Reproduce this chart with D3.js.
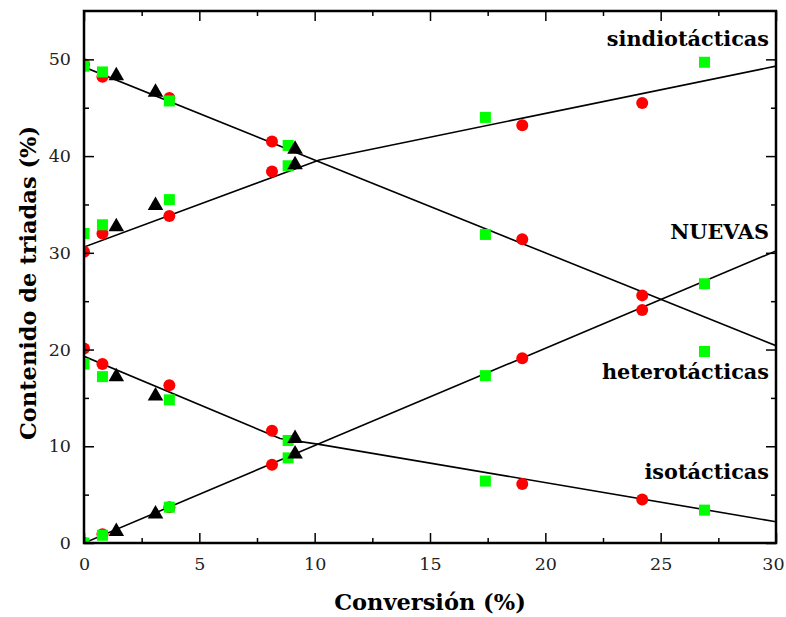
<!DOCTYPE html>
<html><head><meta charset="utf-8">
<script src="https://cdn.jsdelivr.net/npm/d3@7"></script>
<style>body{margin:0;background:#fff}svg{display:block}</style>
</head><body><svg id="c" width="786" height="617"></svg>
<script>
// Conversion (%) for each sample set
const xCircles   = [0, 0.8, 3.7, 8.15, 19.0, 24.2];
const xSquares   = [0, 0.8, 3.7, 8.85, 17.4, 26.9];
const xTriangles = [1.4, 3.1, 9.15];

// Triad content (%) — red circles
const circHetero = [49.5, 48.2, 46.0, 41.5, 31.4, 25.6];
const circSindio = [30.1, 32.0, 33.8, 38.4, 43.2, 45.5];
const circIso    = [20.1, 18.5, 16.3, 11.6, 6.1, 4.5];
const circNuevas = [0, 0.9, 3.7, 8.1, 19.1, 24.1];
// green squares
const sqHetero = [49.3, 48.7, 45.7, 41.1, 31.9, 19.8];
const sqSindio = [32.0, 32.9, 35.5, 39.0, 44.0, 49.7];
const sqIso    = [18.5, 17.2, 14.8, 10.6, 6.4, 3.4];
const sqNuevas = [0, 0.8, 3.7, 8.8, 17.3, 26.8];
// black triangles
const triHetero = [48.4, 46.7, 40.8];
const triSindio = [32.8, 35.0, 39.2];
const triIso    = [17.3, 15.3, 10.9];
const triNuevas = [1.3, 3.1, 9.3];

// Trend lines (x, y)
const lineA = [[0, 49.2], [30, 20.4]];
const lineB = [[0, 30.6], [10.2, 39.6], [30, 49.3]];
const lineC = [[0, 19.3], [8.5, 10.8], [10.2, 10.2], [30, 2.2]];
const lineD = [[0, 0], [30, 30.2]];

const xTicks = [0, 5, 10, 15, 20, 25, 30];
const yTicks = [0, 10, 20, 30, 40, 50];
const labels = [
  {t: "sindiotácticas", y: 46},
  {t: "NUEVAS", y: 239},
  {t: "heterotácticas", y: 379},
  {t: "isotácticas", y: 479}
];

const FONT = "DejaVu Serif";
const svg = d3.select("#c");
const L = 84, R = 776, T = 11, B = 543;
const x = d3.scaleLinear().domain([0, 30]).range([L, R]);
const y = d3.scaleLinear().domain([0, 55]).range([B, T]);

svg.append("defs").append("clipPath").attr("id", "clip")
  .append("rect").attr("x", L).attr("y", T).attr("width", R - L).attr("height", B - T);

const g = svg.append("g").attr("clip-path", "url(#clip)");

const line = d3.line().x(d => x(d[0])).y(d => y(d[1]));
[lineA, lineB, lineC, lineD].forEach(l => {
  g.append("path").attr("d", line(l)).attr("fill", "none").attr("stroke", "#000").attr("stroke-width", 1.6);
});

function pts(xs, ys) { return xs.map((v, i) => [v, ys[i]]); }

const circles = [].concat(pts(xCircles, circHetero), pts(xCircles, circSindio), pts(xCircles, circIso), pts(xCircles, circNuevas));
const squares = [].concat(pts(xSquares, sqHetero), pts(xSquares, sqSindio), pts(xSquares, sqIso), pts(xSquares, sqNuevas));
const tris = [].concat(pts(xTriangles, triHetero), pts(xTriangles, triSindio), pts(xTriangles, triIso), pts(xTriangles, triNuevas));

g.selectAll("circle.r").data(circles).enter().append("circle")
  .attr("cx", d => x(d[0])).attr("cy", d => y(d[1])).attr("r", 6).attr("fill", "#ff0000");
const sq = 11;
g.selectAll("rect.s").data(squares).enter().append("rect")
  .attr("x", d => x(d[0]) - sq / 2).attr("y", d => y(d[1]) - sq / 2)
  .attr("width", sq).attr("height", sq).attr("fill", "#00ff00");
g.selectAll("path.t").data(tris).enter().append("path")
  .attr("d", d3.symbol().type(d3.symbolTriangle).size(105))
  .attr("transform", d => `translate(${x(d[0])},${y(d[1]) + 1})`).attr("fill", "#000");

// Axes with inward ticks
const xMinor = d3.range(2.5, 30, 5);
const yMinor = d3.range(5, 55, 10);
const axG = svg.append("g");
const xAxisG = axG.append("g").attr("transform", `translate(0,${B})`)
  .call(d3.axisBottom(x).tickValues(xTicks).tickSize(-10).tickPadding(15).tickFormat(d3.format("d")));
axG.append("g").attr("transform", `translate(0,${B})`)
  .call(d3.axisBottom(x).tickValues(xMinor).tickSize(-5).tickFormat(""));
axG.append("g").attr("transform", `translate(0,${T})`)
  .call(d3.axisTop(x).tickValues(xTicks).tickSize(-10).tickFormat(""));
axG.append("g").attr("transform", `translate(0,${T})`)
  .call(d3.axisTop(x).tickValues(xMinor).tickSize(-5).tickFormat(""));
axG.append("g").attr("transform", `translate(${L},0)`)
  .call(d3.axisLeft(y).tickValues(yTicks).tickSize(-10).tickPadding(13).tickFormat(d3.format("d")));
axG.append("g").attr("transform", `translate(${L},0)`)
  .call(d3.axisLeft(y).tickValues(yMinor).tickSize(-5).tickFormat(""));
axG.append("g").attr("transform", `translate(${R},0)`)
  .call(d3.axisRight(y).tickValues(yTicks).tickSize(-10).tickFormat(""));
axG.append("g").attr("transform", `translate(${R},0)`)
  .call(d3.axisRight(y).tickValues(yMinor).tickSize(-5).tickFormat(""));
axG.selectAll(".domain").remove();
axG.selectAll("g").attr("font-family", null);
axG.selectAll("line").attr("stroke", "#000").attr("stroke-width", 1.5);
axG.selectAll("text").attr("font-size", 17.5).attr("fill", "#222").style("font-family", FONT);
// keep the last x tick label inside the window
xAxisG.selectAll(".tick text").filter(d => d === 30).attr("dx", "-3");

svg.append("rect").attr("x", L).attr("y", T).attr("width", R - L).attr("height", B - T)
  .attr("fill", "none").attr("stroke", "#000").attr("stroke-width", 2.5);

svg.append("text").attr("x", (L + R) / 2).attr("y", 610).attr("text-anchor", "middle")
  .style("font-family", FONT).attr("font-size", 22.5).attr("font-weight", "bold").text("Conversión (%)");
svg.append("text").attr("transform", `translate(36,${(T + B) / 2 + 6}) rotate(-90)`)
  .attr("text-anchor", "middle").style("font-family", FONT).attr("font-size", 22.5).attr("font-weight", "bold")
  .text("Contenido de triadas (%)");

svg.selectAll("text.lab").data(labels).enter().append("text")
  .attr("x", 769).attr("y", d => d.y).attr("text-anchor", "end").style("font-family", FONT)
  .attr("font-size", 20.8).attr("font-weight", "bold").text(d => d.t);
</script></body></html>
